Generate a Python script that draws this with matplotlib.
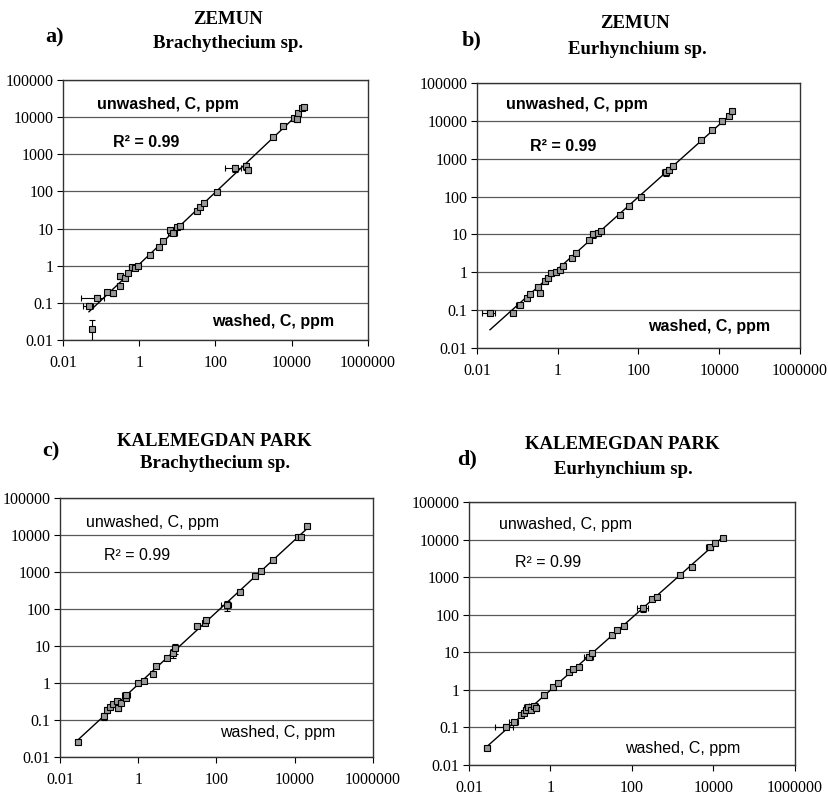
import numpy as np
import matplotlib.pyplot as plt

# washed (x) vs unwashed (y) concentrations, ppm
wash_a = [0.056, 0.048, 0.076, 0.145, 0.20, 0.31, 0.32, 0.42, 0.51, 0.63, 0.76, 0.94,
          1.9, 3.2, 4.3, 6.6, 7.8, 9.5, 11.6, 32, 39, 50, 107, 325, 630, 730,
          3300, 6000, 11200, 13600, 15000, 18500, 20500]
unw_a = [0.020, 0.081, 0.138, 0.20, 0.18, 0.29, 0.52, 0.46, 0.62, 0.93, 0.85, 1.0,
         2.0, 3.2, 4.7, 9.1, 7.8, 11, 11.8, 30, 39, 48, 98, 420, 480, 380,
         2950, 5800, 9300, 8700, 12600, 17300, 18200]
ex_a = [10, 30, 60, 15, 10, 10, 15, 10, 10, 15, 10, 10,
        10, 10, 10, 15, 25, 10, 10, 10, 10, 10, 10, 45, 10, 10,
        10, 15, 10, 10, 10, 10, 10]
ey_a = [75, 10, 15, 10, 15, 10, 15, 10, 10, 10, 10, 10,
        10, 10, 10, 15, 15, 10, 10, 10, 10, 10, 10, 20, 20, 15,
        10, 10, 15, 15, 10, 10, 10]

wash_b = [0.021, 0.077, 0.117, 0.17, 0.21, 0.36, 0.33, 0.48, 0.58, 0.70, 0.93, 1.12,
          1.35, 2.2, 2.9, 6.1, 7.4, 9.8, 12, 34, 59, 114, 475, 580, 700,
          3450, 6600, 11700, 17000, 20700]
unw_b = [0.085, 0.085, 0.14, 0.21, 0.26, 0.28, 0.41, 0.58, 0.71, 0.96, 1.0, 1.17,
         1.45, 2.4, 3.2, 7.1, 10, 11, 12, 33, 58, 100, 440, 510, 630,
         3150, 5900, 9700, 13200, 17800]
ex_b = [35, 15, 20, 10, 10, 10, 15, 10, 15, 10, 10, 10,
        10, 10, 10, 15, 15, 15, 10, 10, 10, 10, 20, 10, 10,
        10, 10, 15, 10, 10]
ey_b = [10, 10, 10, 15, 10, 10, 15, 15, 10, 15, 15, 10,
        10, 10, 10, 15, 20, 15, 10, 10, 10, 10, 20, 15, 10,
        10, 10, 15, 10, 10]

wash_c = [0.029, 0.13, 0.155, 0.19, 0.23, 0.28, 0.31, 0.37, 0.49, 0.50, 1.0, 1.4,
          2.4, 2.9, 5.3, 7.8, 8.7, 31, 50, 55, 185, 400, 950, 1400, 2800,
          12300, 14800, 20000]
unw_c = [0.025, 0.126, 0.19, 0.23, 0.27, 0.32, 0.21, 0.29, 0.39, 0.48, 1.0, 1.12,
         1.7, 2.8, 4.7, 6.5, 8.9, 34, 42, 51, 125, 280, 760, 1050, 2150,
         9100, 8900, 17800]
ex_c = [15, 15, 10, 10, 15, 10, 15, 10, 10, 25, 10, 10,
        10, 10, 10, 15, 10, 15, 10, 10, 30, 10, 10, 10, 10,
        10, 10, 10]
ey_c = [10, 20, 20, 10, 15, 10, 15, 10, 10, 15, 10, 10,
        10, 10, 10, 25, 30, 10, 10, 10, 30, 10, 10, 10, 10,
        10, 15, 10]

wash_d = [0.028, 0.081, 0.13, 0.19, 0.23, 0.25, 0.28, 0.33, 0.40, 0.44, 0.70, 1.12,
          1.49, 2.9, 3.5, 5.0, 8.8, 10.2, 32, 43, 63, 190, 305, 410,
          1500, 2900, 8100, 10700, 17200]
unw_d = [0.028, 0.105, 0.14, 0.21, 0.24, 0.29, 0.35, 0.30, 0.37, 0.32, 0.72, 1.17,
         1.49, 3.0, 3.5, 4.1, 7.6, 9.3, 29, 39, 50, 148, 270, 300,
         1130, 1870, 6300, 8100, 11200]
ex_d = [15, 45, 25, 10, 10, 15, 20, 10, 25, 20, 10, 10,
        10, 10, 10, 10, 25, 10, 10, 10, 10, 30, 10, 15,
        10, 15, 20, 10, 10]
ey_d = [10, 15, 10, 10, 10, 10, 15, 10, 10, 15, 15, 10,
        10, 10, 10, 10, 15, 15, 15, 10, 10, 20, 10, 10,
        10, 10, 15, 10, 10]

sites = ['ZEMUN', 'ZEMUN', 'KALEMEGDAN PARK', 'KALEMEGDAN PARK']
species = ['Brachythecium sp.', 'Eurhynchium sp.', 'Brachythecium sp.', 'Eurhynchium sp.']
letters = ['a)', 'b)', 'c)', 'd)']
r2_text = 'R² = 0.99'

W, H = 829, 800
fig = plt.figure(figsize=(W / 100, H / 100), dpi=100)

def px(x, y):
    return x / W, 1 - y / H

# axes boxes in pixels: left, top, right, bottom
boxes = [(63, 80, 368, 340), (477, 83, 800, 348), (60, 498, 373, 757), (469, 502, 795, 765)]
# title positions (site, species, letter) in pixels
title_pos = [((228, 19), (228, 44), (45, 37)),
             ((635, 23), (637, 50), (462, 40)),
             ((214, 441), (215, 463), (42, 451)),
             ((622, 444), (623, 470), (457, 459))]
# inner labels in axes fraction: unwashed, R2, washed
inner_pos = [((0.11, 0.904), (0.164, 0.76), (0.49, 0.07)),
             ((0.09, 0.92), (0.164, 0.76), (0.53, 0.082)),
             ((0.083, 0.906), (0.14, 0.777), (0.51, 0.095)),
             ((0.093, 0.915), (0.142, 0.77), (0.48, 0.063))]
inner_bold = [True, True, False, False]

data = [(wash_a, unw_a, ex_a, ey_a), (wash_b, unw_b, ex_b, ey_b),
        (wash_c, unw_c, ex_c, ey_c), (wash_d, unw_d, ex_d, ey_d)]

for i in range(4):
    l, t, r, b = boxes[i]
    ax = fig.add_axes([l / W, 1 - b / H, (r - l) / W, (b - t) / H])
    x = np.array(data[i][0])
    y = np.array(data[i][1])
    ex = np.array(data[i][2]) / 100 * x
    ey = np.array(data[i][3]) / 100 * y
    ax.set_xscale('log')
    ax.set_yscale('log')
    ax.set_xlim(0.01, 1e6)
    ax.set_ylim(0.01, 1e5)
    ax.yaxis.grid(True, color='0.35', lw=0.9)
    ax.set_axisbelow(True)
    # power trend line
    k, c0 = np.polyfit(np.log10(x), np.log10(y), 1)
    xx = np.array([x.min(), x.max()])
    ax.plot(xx, 10 ** (c0 + k * np.log10(xx)), color='black', lw=1.0, zorder=2)
    ax.errorbar(x, y, xerr=ex, yerr=ey, fmt='s', ms=4, mfc='0.6', mec='black',
                mew=0.8, ecolor='black', elinewidth=0.8, capsize=2, zorder=3)
    ax.set_xticks([0.01, 1, 100, 10000, 1000000])
    ax.set_xticklabels(['0.01', '1', '100', '10000', '1000000'])
    ax.set_yticks([0.01, 0.1, 1, 10, 100, 1000, 10000, 100000])
    ax.set_yticklabels(['0.01', '0.1', '1', '10', '100', '1000', '10000', '100000'])
    ax.minorticks_off()
    ax.tick_params(direction='out', length=4, width=0.8, labelsize=11.5, pad=3)
    ax.tick_params(axis='x', pad=7)
    for lab in ax.get_xticklabels() + ax.get_yticklabels():
        lab.set_family('Liberation Serif')
    for s in ax.spines.values():
        s.set_color('0.2')
        s.set_linewidth(1.0)
    w = 'bold' if inner_bold[i] else 'normal'
    u, r2, wa = inner_pos[i]
    ax.text(u[0], u[1], 'unwashed, C, ppm', transform=ax.transAxes, fontsize=11.5,
            fontweight=w, family='Liberation Sans', va='center', ha='left')
    ax.text(r2[0], r2[1], r2_text, transform=ax.transAxes, fontsize=11.5,
            fontweight=w, family='Liberation Sans', va='center', ha='left')
    ax.text(wa[0], wa[1], 'washed, C, ppm', transform=ax.transAxes, fontsize=11.5,
            fontweight=w, family='Liberation Sans', va='center', ha='left')

    sp, spc, lt = title_pos[i]
    fig.text(*px(*sp), sites[i], ha='center', va='center', fontsize=13.5,
             fontweight='bold', family='Liberation Serif')
    fig.text(*px(*spc), species[i], ha='center', va='center', fontsize=13.5,
             fontweight='bold', family='Liberation Serif')
    fig.text(*px(*lt), letters[i], ha='left', va='center', fontsize=16,
             fontweight='bold', family='Liberation Serif')

fig.savefig('out.png', dpi=100)
